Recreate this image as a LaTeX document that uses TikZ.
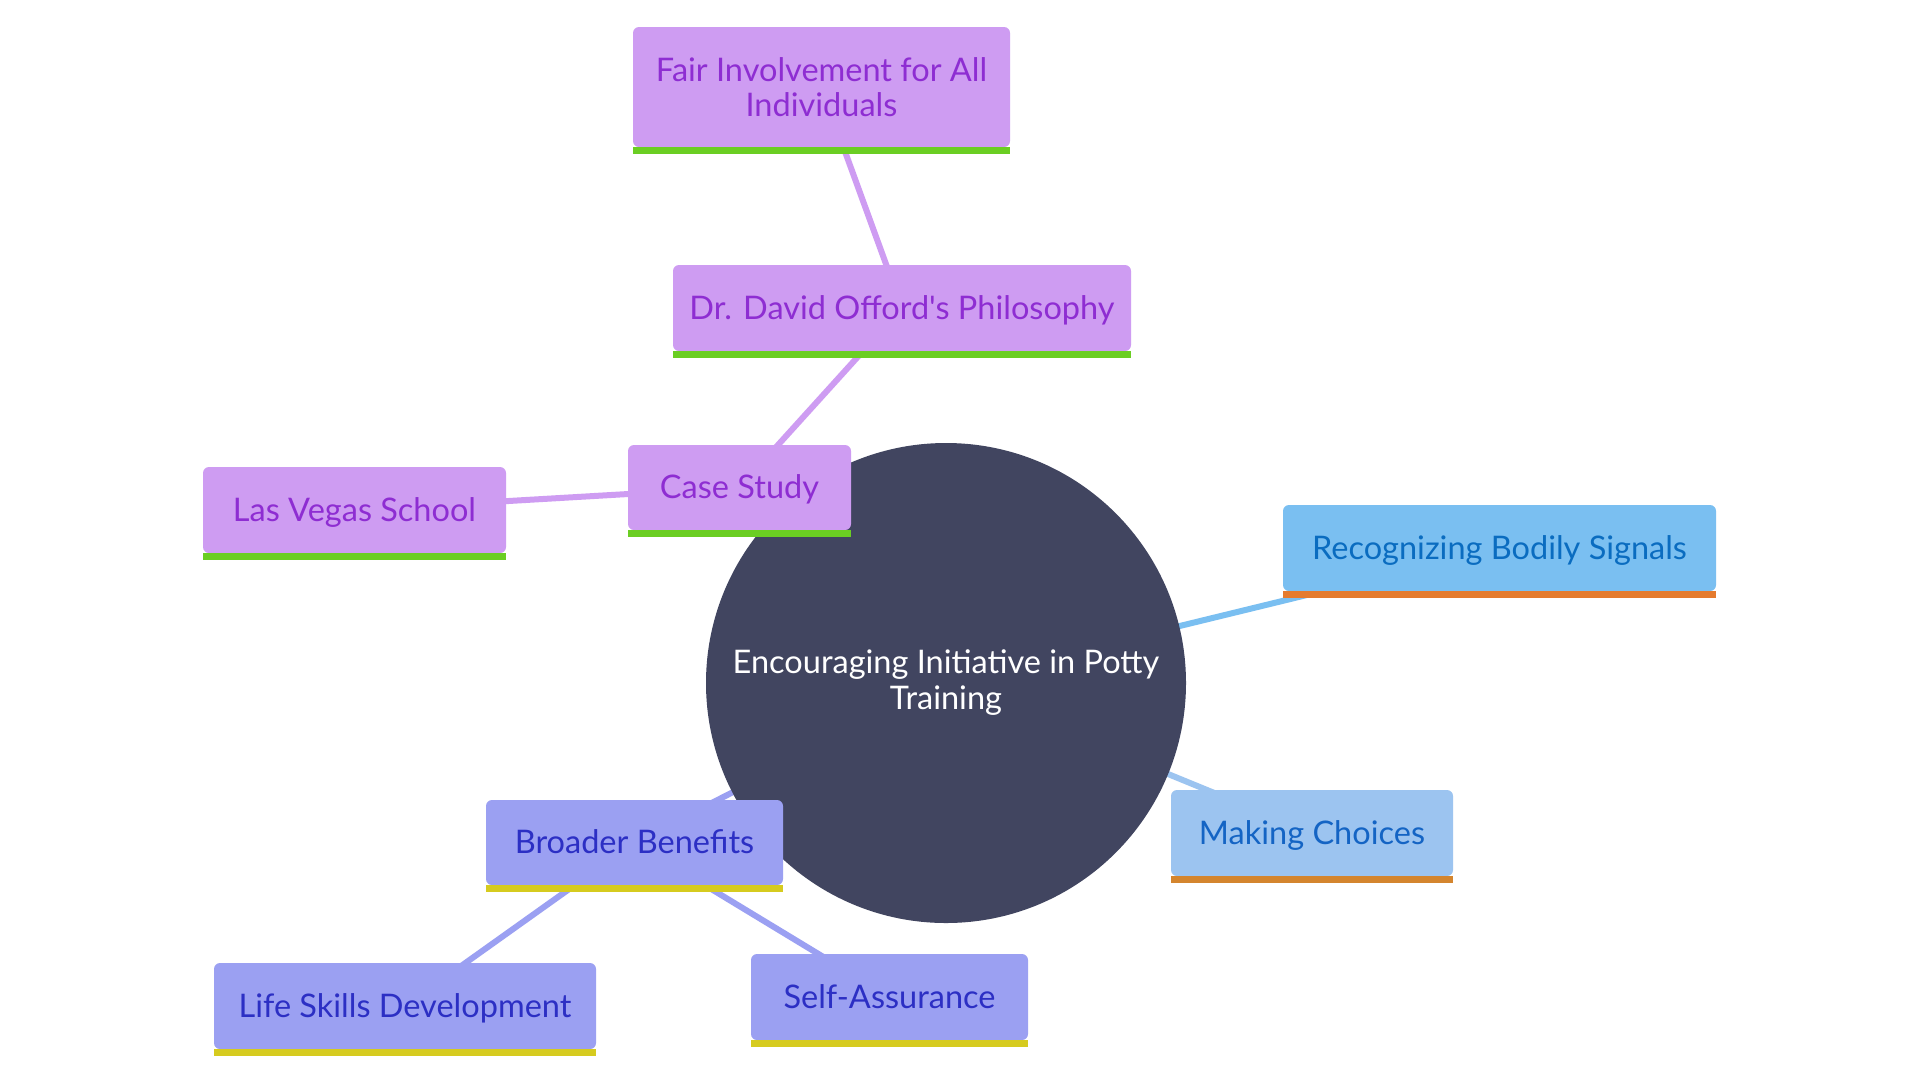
\documentclass[tikz,border=0pt]{standalone}
\usepackage{fontspec}
\newfontfamily\mfont{Lato}
\usetikzlibrary{backgrounds}
\definecolor{pfill}{HTML}{CE9CF2}
\definecolor{ptext}{HTML}{8E2DD2}
\definecolor{barG}{HTML}{6BCE23}
\definecolor{rfill}{HTML}{7ABFF1}
\definecolor{rtext}{HTML}{0A6CC0}
\definecolor{barO}{HTML}{E57B2E}
\definecolor{mfill}{HTML}{9CC4F0}
\definecolor{mtext}{HTML}{1464C4}
\definecolor{barM}{HTML}{D4852E}
\definecolor{ifill}{HTML}{9BA0F2}
\definecolor{itext}{HTML}{2C2FC4}
\definecolor{barY}{HTML}{D6CB1F}
\definecolor{core}{HTML}{414560}
\tikzset{
  basebox/.style={rectangle, rounded corners=6pt, inner sep=0pt, align=center,
    font=\mfont\fontsize{32.5}{35}\selectfont},
  oneline/.style={text height=23.5pt, text depth=1.5pt},
  pbox/.style={basebox, fill=pfill, text=ptext},
  rbox/.style={basebox, fill=rfill, text=rtext},
  mbox/.style={basebox, fill=mfill, text=mtext},
  ibox/.style={basebox, fill=ifill, text=itext},
  conn/.style={line width=6pt},
}
\begin{document}
\begin{tikzpicture}[x=1pt,y=-1pt]
\useasboundingbox (0,0) rectangle (1920,1080);
% central
\node[circle, fill=core, minimum size=480pt, inner sep=0pt, text=white, align=center,
  font=\mfont\fontsize{32.5}{36}\selectfont] (root) at (946,683) {Encouraging Initiative in Potty\\Training};
% purple branch
\node[pbox, oneline, minimum width=223pt, minimum height=85pt] (cs) at (739.5,487.5) {Case Study};
\node[pbox, oneline, minimum width=458pt, minimum height=86pt] (dr) at (902,308) {Dr. David Offord's Philosophy};
\node[pbox, minimum width=377pt, minimum height=120pt] (fair) at (821.5,87) {Fair Involvement for All\\Individuals};
\node[pbox, oneline, minimum width=303pt, minimum height=86pt] (lv) at (354.5,510) {Las Vegas School};
% blue branch
\node[rbox, oneline, minimum width=433pt, minimum height=86pt] (rec) at (1499.5,548) {Recognizing Bodily Signals};
\node[mbox, oneline, minimum width=282pt, minimum height=86pt] (mc) at (1312,833) {Making Choices};
% indigo branch
\node[ibox, oneline, minimum width=297pt, minimum height=85pt] (bb) at (634.5,842.5) {Broader Benefits};
\node[ibox, oneline, minimum width=382pt, minimum height=86pt] (ls) at (405,1006) {Life Skills Development};
\node[ibox, oneline, minimum width=277pt, minimum height=86pt] (sa) at (889.5,997) {Self-Assurance};
% bars
\foreach \n/\c in {cs/barG, dr/barG, fair/barG, lv/barG, rec/barO, mc/barM, bb/barY, ls/barY, sa/barY}
  \fill[color=\c] (\n.south west) rectangle ([yshift=-7pt]\n.south east);
% connectors
\begin{pgfonlayer}{background}
\fill[white] (0,0) rectangle (1920,1080);
\draw[conn, pfill] (root.center) -- (cs.center);
\draw[conn, pfill] (cs.center) -- (dr.center);
\draw[conn, pfill] (dr.center) -- (fair.center);
\draw[conn, pfill] (cs.center) -- (lv.center);
\draw[conn, rfill] (root.center) -- (rec.center);
\draw[conn, mfill] (root.center) -- (mc.center);
\draw[conn, ifill] (root.center) -- (bb.center);
\draw[conn, ifill] (bb.center) -- (ls.center);
\draw[conn, ifill] (bb.center) -- (sa.center);
\end{pgfonlayer}
\end{tikzpicture}
\end{document}
